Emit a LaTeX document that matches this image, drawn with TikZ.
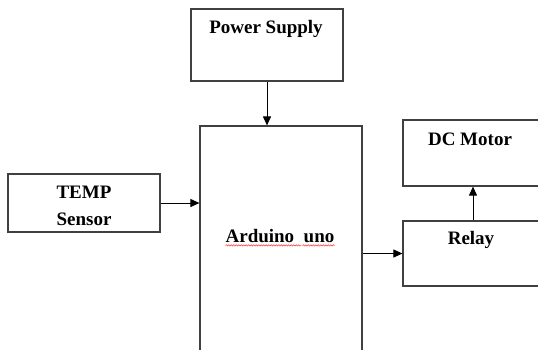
\documentclass[tikz,border=0pt]{standalone}
\usepackage{fontspec}
\setmainfont{Liberation Serif}
\usetikzlibrary{arrows.meta,decorations.pathmorphing}
\tikzset{
  box/.style={draw=black!75, line width=1.2pt, rectangle, inner sep=0pt},
  lbl/.style={font=\fontsize{19}{22}\selectfont\bfseries, inner sep=0pt},
  link/.style={line width=1pt, -{Triangle[length=9pt,width=8pt]}},
  squiggle/.style={red!80, line width=0.5pt, decorate, decoration={snake, amplitude=0.7pt, segment length=2.5pt}}
}
\begin{document}
\begin{tikzpicture}[x=1pt,y=-1pt]
		%%%%% START %%%%%
		\useasboundingbox[fill=white] (0,0) rectangle (538,349);
		\clip (0,0) rectangle (538,349);
		
		% blocks
		\node[box, minimum width=152, minimum height=72] (ps) at (267,45) {};
		\node[box, minimum width=162, minimum height=254] (ard) at (281,253) {};
		\node[box, minimum width=152, minimum height=58] (temp) at (84,203) {};
		\node[box, minimum width=140, minimum height=66] (motor) at (473,153) {};
		\node[box, minimum width=140, minimum height=65] (relay) at (473,253.5) {};
		
		% texts
		\node[lbl] (pstxt) at (266,29) {Power Supply};
		\node[lbl] (temptxt) at (84,192) {TEMP};
		\node[lbl] (sensortxt) at (84,219) {Sensor};
		\node[lbl] (ardtxt) at (280,236) {Arduino\ \ uno};
		\node[lbl] (motortxt) at (470,139) {DC Motor};
		\node[lbl] (relaytxt) at (471,240) {Relay};
		
		% spell-check marks
		\draw[squiggle] (ardtxt.south west) ++(0,2.5) -- ++(76,0);
		\draw[squiggle] (ardtxt.south east) ++(-32,2.5) -- ++(32,0);
		
		% connectors
		\draw[link] (ps.south) -- (ard.north -| ps.south);
		\draw[link] (temp.east) -- (temp.east -| ard.west);
		\draw[link] (relay.west -| ard.east) -- (relay.west);
		\draw[link] (relay.north) -- (motor.south);
		
		%%%%% END %%%%%
\end{tikzpicture}
\end{document}
